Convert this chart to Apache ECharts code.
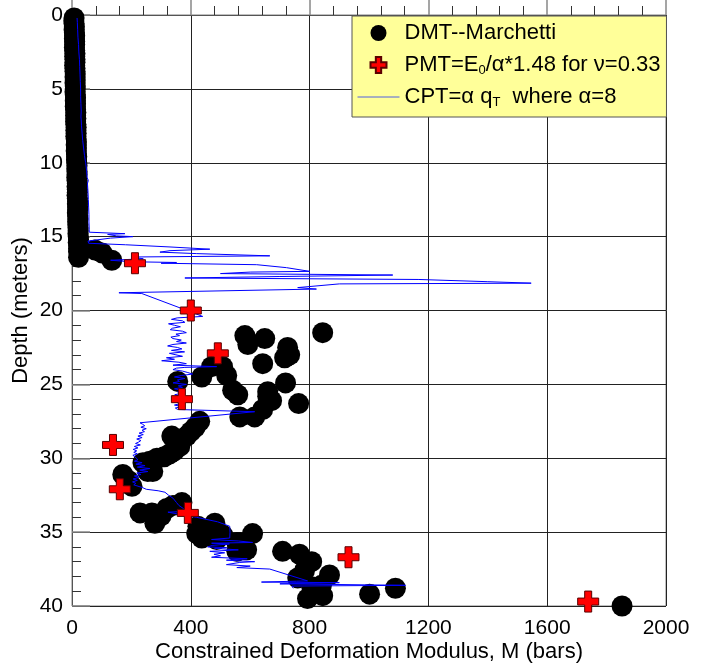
<!DOCTYPE html>
<html>
<head>
<meta charset="utf-8">
<script src="https://cdn.jsdelivr.net/npm/echarts@6/dist/echarts.min.js"></script>
<style>
  html, body { margin: 0; padding: 0; background: #fff; }
  #chart { width: 702px; height: 664px; }
</style>
</head>
<body>
<div id="chart"></div>
<script>
// Axis ticks
const modulusTicks = [0, 400, 800, 1200, 1600, 2000];
const depthTicks = [0, 5, 10, 15, 20, 25, 30, 35, 40];

// Series names
const dmtName = 'DMT--Marchetti';
const pmtName = 'PMT=E0/α*1.48 for ν=0.33';
const cptName = 'CPT=α qT  where α=8';

// DMT (Marchetti) readings, [M (bars), depth (m)]
const dmtUpper = [
  [7,0.2],[6,0.4],[7,0.6],[8,0.8],[7,1.0],[8,1.2],[9,1.4],[8,1.6],[9,1.8],[9,2.0],
  [8,2.2],[9,2.4],[10,2.6],[9,2.8],[10,3.0],[10,3.2],[9,3.4],[10,3.6],[10,3.8],[11,4.0],
  [10,4.2],[11,4.4],[10,4.6],[11,4.8],[11,5.0],[10,5.2],[11,5.4],[12,5.6],[11,5.8],[12,6.0],
  [11,6.2],[12,6.4],[13,6.6],[12,6.8],[13,7.0],[12,7.2],[13,7.4],[14,7.6],[13,7.8],[14,8.0],
  [13,8.2],[14,8.4],[15,8.6],[14,8.8],[15,9.0],[14,9.2],[15,9.4],[16,9.6],[15,9.8],[16,10.0],
  [17,10.2],[16,10.4],[17,10.6],[17,10.8],[16,11.0],[17,11.2],[18,11.4],[17,11.6],[18,11.8],[18,12.0],
  [17,12.2],[18,12.4],[19,12.6],[18,12.8],[19,13.0],[19,13.2],[18,13.4],[19,13.6],[20,13.8],[19,14.0],
  [20,14.2],[20,14.4],[21,14.6],[20,14.8],[21,15.0],[22,15.2],[21,15.4],[23,15.6],[22,15.8],[22,16.0],
  [22,16.4],[77,15.9],[101,16.1],[134,16.6]
];
const dmtMiddle = [
  [582,21.7],[592,22.3],[649,21.9],[844,21.5],[726,22.5],[733,23.0],[716,23.2],[642,23.6],
  [507,23.8],[470,23.8],[437,24.5],[521,24.4],[356,24.8],[719,24.9],
  [541,25.4],[558,25.7],[659,25.5],[659,25.8],[763,26.3],[672,26.1],[642,26.7],[615,27.2],[565,27.2],
  [430,27.5],[415,27.9],[400,28.2],[386,28.5],[336,28.5],[363,29.2],[345,29.5],[329,29.7],
  [310,29.9],[286,30.0],[262,30.2],[239,30.3],[255,30.9],[272,30.9],[171,31.1],[190,31.5],[202,31.9]
];
const dmtLower = [
  [370,33.0],[340,33.2],[319,33.4],[229,33.7],[269,33.7],[300,33.9],[279,34.4],
  [420,35.1],[424,34.6],[481,34.4],[437,35.4],[487,35.5],[508,35.2],[555,35.7],[608,35.1],
  [565,35.7],[588,36.2],[555,36.3],
  [709,36.3],[766,36.5],[807,37.0],[783,37.6],[760,38.1],[867,37.9],[840,38.6],[807,38.7],
  [844,39.3],[793,39.5],[1002,39.2],[1089,38.8],[1852,40.0]
];

// PMT values, [M (bars), depth (m)]
const pmtPoints = [
  [212,16.8],[400,20.0],[491,22.9],[370,26.0],[138,29.1],[161,32.1],[390,33.7],[931,36.7],[1738,39.7]
];

// CPT trace (alpha = 8), [M (bars), depth (m)]
const cptShallow = [
  [17,0.2],[18,0.5],[19,1.0],[20,1.5],[22,2.0],[23,2.5],[25,3.0],[26,3.5],[27,4.0],[28,4.5],
  [29,5.0],[29,5.5],[30,6.0],[31,6.5],[30,6.9],[35,7.0],[31,7.1],[32,7.5],[34,8.0],[36,8.5],
  [39,9.0],[42,9.5],[46,10.0],[49,10.5],[51,11.0],[55,11.2],[52,11.4],[54,12.0],[55,12.5],[56,13.0],
  [57,13.5],[57,14.0],[58,14.5],[58,14.7]
];
const cptSpikes = [
  [60,14.75],[178,14.8],[120,14.85],[150,14.95],[205,15.0],[130,15.1],[54,15.3],[56,15.45],
  [180,15.55],[330,15.7],[464,15.85],[330,15.95],[296,16.05],[420,16.15],[666,16.3],[200,16.38],
  [240,16.5],[130,16.6],[198,16.7],[352,16.75],[300,16.8],[622,16.9],[722,17.1],[800,17.35],
  [600,17.4],[500,17.5],[1080,17.6],[700,17.7],[380,17.8],[1168,17.9],[1400,18.05],[1546,18.15],
  [900,18.2],[760,18.45],[823,18.55],[158,18.8],[235,18.85],[440,20.4]
];
const cptMiddle = [
  [354,20.5],[335,20.6],[372,20.7],[380,20.8],[325,20.9],[345,21.0],[365,21.1],[338,21.2],[331,21.3],[372,21.4],
  [385,21.5],[350,21.6],[362,21.7],[333,21.8],[340,21.9],[368,22.0],[352,22.1],[385,22.2],[340,22.3],[322,22.4],
  [355,22.5],[370,22.6],[335,22.7],[379,22.8],[328,22.9],[350,23.0],[372,23.1],[318,23.2],[345,23.3],[302,23.4],
  [360,23.5],[385,23.6],[340,23.7],[487,23.8],[380,23.85],[352,23.9],[340,24.0],[372,24.1],[390,24.2],[406,24.3],
  [368,24.4],[345,24.5],[380,24.6],[355,24.7],[362,24.8],[340,24.9],[385,25.0],[358,25.1],[372,25.2],[345,25.3],
  [368,25.4],[355,25.5],[370,25.6],[346,25.7],[362,25.8],[375,25.9],[352,26.0],[340,26.1],[354,26.2],[365,26.3],
  [345,26.4],[370,26.5],[348,26.6],[356,26.7],[360,26.75],[615,26.85],[229,27.6]
];
const cptDeep = [
  [238,27.7],[245,27.8],[232,27.9],[250,28.0],[236,28.1],[244,28.2],[226,28.3],[240,28.4],[222,28.5],[236,28.6],
  [218,28.7],[232,28.8],[225,28.9],[214,29.0],[230,29.1],[210,29.2],[222,29.3],[206,29.4],[218,29.5],[208,29.6],
  [220,29.7],[205,29.8],[212,29.9],[207,30.0],[222,30.1],[210,30.2],[236,30.3],[215,30.4],[246,30.5],[220,30.6],
  [262,30.7],[228,30.8],[255,30.9],[218,31.0],[232,31.1],[210,31.2],[225,31.3],[206,31.4],[220,31.5],[204,31.6],
  [215,31.7],[208,31.8]
];
const cptBottom = [
  [212,31.9],[239,32.0],[250,32.1],[290,32.2],[313,32.3],[325,32.5],[340,32.7],[345,32.8],[352,33.0],[360,33.2],
  [375,33.4],[380,33.6],[323,33.65],[420,34.0],[490,34.3],[531,34.6],[532,35.0],[531,35.4],[470,35.5],[560,35.6],
  [608,35.7],[470,35.75],[530,35.8],[472,35.9],[457,36.0],[521,36.05],[480,36.1],[560,36.2],[464,36.3],[514,36.4],
  [478,36.5],[500,36.6],[470,36.7],[590,36.8],[520,36.9],[615,37.0],[565,37.05],[520,37.2],[600,37.3],[555,37.4],
  [666,37.5],[793,38.3],[756,38.32],[638,38.38],[900,38.42],[700,38.5],[1123,38.6],[740,38.65],[745,38.8]
];

const FONT = "'Liberation Sans', Arial, Helvetica, sans-serif";
// plus-shaped marker
const crossPath = 'path://M7,0H14V7H21V14H14V21H7V14H0V7H7Z';

const chart = echarts.init(document.getElementById('chart'), null, { renderer: 'canvas' });

function axisCommon() {
  return {
    type: 'value',
    nameLocation: 'middle',
    nameMoveOverlap: false,
    nameTextStyle: { fontSize: 22, color: '#000', fontFamily: FONT },
    axisLine: { show: true, lineStyle: { color: '#555', width: 1 } },
    axisTick: { show: true, inside: true, length: 18, lineStyle: { color: '#888', width: 1.5 } },
    minorTick: { show: true, splitNumber: 5, length: 9, lineStyle: { color: '#333', width: 1 } },
    splitLine: { show: true, lineStyle: { color: '#222', width: 1 } },
    axisLabel: { fontSize: 21, color: '#000', fontFamily: FONT, formatter: function (v) { return String(v); } }
  };
}

const xAxis = Object.assign(axisCommon(), {
  min: modulusTicks[0],
  max: modulusTicks[modulusTicks.length - 1],
  interval: modulusTicks[1] - modulusTicks[0],
  name: 'Constrained Deformation Modulus, M (bars)',
  nameGap: 35
});
xAxis.axisLabel.margin = 12;

const yAxis = Object.assign(axisCommon(), {
  inverse: true,
  min: depthTicks[0],
  max: depthTicks[depthTicks.length - 1],
  interval: depthTicks[1] - depthTicks[0],
  name: 'Depth (meters)',
  nameGap: 40
});
yAxis.axisLabel.margin = 9;

const legendText = {};
legendText[dmtName] = 'DMT--Marchetti';
legendText[pmtName] = 'PMT=E{sub|0}/α*1.48 for ν=0.33';
legendText[cptName] = 'CPT=α q{sub|T}  where α=8';

chart.setOption({
  animation: false,
  backgroundColor: '#fff',
  grid: {
    left: 72, right: 36, top: 15, bottom: 58,
    outerBoundsMode: 'none',
    containLabel: false,
    show: true, borderColor: '#808080', borderWidth: 1
  },
  xAxis: xAxis,
  yAxis: yAxis,
  legend: {
    orient: 'vertical',
    left: 352,
    top: 16,
    z: 10,
    selectedMode: false,
    backgroundColor: '#ffff99',
    borderColor: '#555',
    borderWidth: 1,
    padding: [5, 6, 8, 5],
    itemGap: 8,
    itemWidth: 42,
    itemHeight: 16,
    data: [
      { name: dmtName, icon: 'circle' },
      { name: pmtName, icon: crossPath },
      { name: cptName, itemStyle: { opacity: 0 }, lineStyle: { color: '#5060e0', width: 1 } }
    ],
    formatter: function (name) { return legendText[name]; },
    textStyle: {
      fontSize: 22,
      lineHeight: 24,
      color: '#000',
      fontFamily: FONT,
      rich: {
        sub: { fontSize: 13, lineHeight: 24, verticalAlign: 'bottom', fontFamily: FONT, color: '#000' }
      }
    }
  },
  series: [
    {
      name: dmtName,
      type: 'scatter',
      symbol: 'circle',
      symbolSize: 21,
      clip: false,
      z: 2,
      itemStyle: { color: '#000', opacity: 1 },
      data: dmtUpper.concat(dmtMiddle, dmtLower)
    },
    {
      name: cptName,
      type: 'line',
      symbol: 'none',
      showSymbol: false,
      z: 3,
      lineStyle: { color: '#0000ff', width: 1 },
      itemStyle: { color: '#0000ff' },
      data: cptShallow.concat(cptSpikes, cptMiddle, cptDeep, cptBottom)
    },
    {
      name: pmtName,
      type: 'scatter',
      symbol: crossPath,
      symbolSize: 21,
      symbolKeepAspect: true,
      clip: false,
      z: 4,
      itemStyle: { color: '#ff0000', borderColor: '#5a0000', borderWidth: 1, opacity: 1 },
      data: pmtPoints
    }
  ]
});
</script>
</body>
</html>
